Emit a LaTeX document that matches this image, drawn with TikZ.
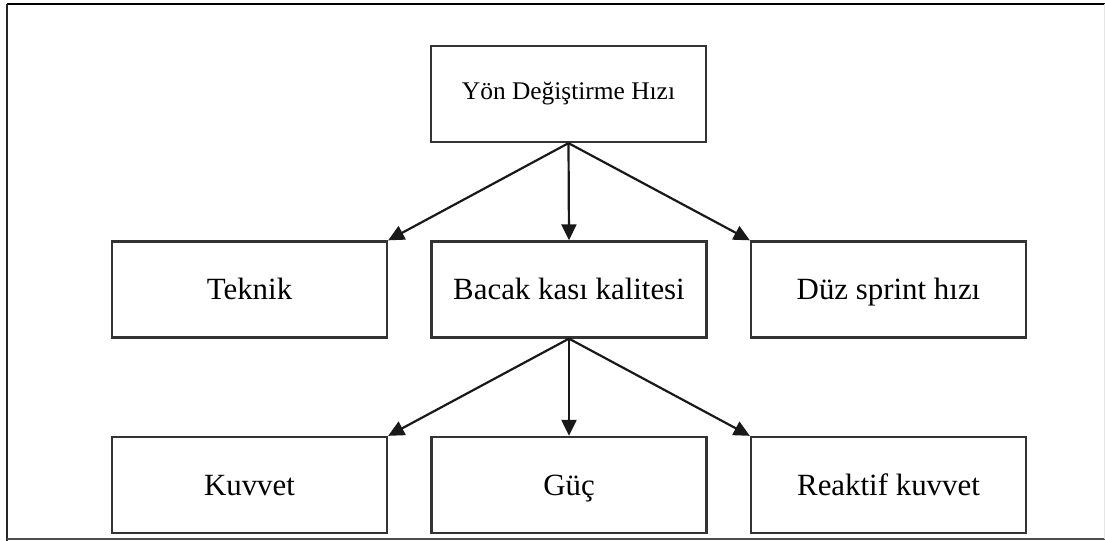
\documentclass[tikz,border=0pt]{standalone}
\usepackage{fontspec}
\setmainfont{Liberation Serif}
\usetikzlibrary{arrows.meta}
\begin{document}
\begin{tikzpicture}[x=1bp,y=-1bp,
  box/.style={draw=black!80, line width=2.3bp, minimum width=275bp, minimum height=96bp, inner sep=0pt, text height=23.2bp, text depth=2.2bp, font=\fontsize{31}{36}\selectfont},
  topbox/.style={box, text height=17.9bp, text depth=5.9bp, font=\fontsize{25.5}{30}\selectfont},
  link/.style={draw=black!90, line width=2.2bp, -{Triangle[length=16bp,width=15bp]}}
]
\useasboundingbox (0,0) rectangle (1105,541);
% outer frame
\draw[line width=2.8bp, black] (7,4) -- (1105,4);
\draw[line width=2.2bp, black!85] (7,4) -- (7,541);
\draw[line width=1.6bp, black!70] (7,539) -- (1105,539);
\draw[line width=1bp, black!10] (1104,4) -- (1104,539);
% nodes
\node[topbox] (top) at (568.5,94) {Yön Değiştirme Hızı};
\node[box] (tek) at (249.5,289.5) {Teknik};
\node[box] (bac) at (569,289.5) {Bacak kası kalitesi};
\node[box] (duz) at (888.5,289.5) {Düz sprint hızı};
\node[box] (kuv) at (249.5,485) {Kuvvet};
\node[box] (guc) at (569,485) {Güç};
\node[box] (rea) at (888.5,485) {Reaktif kuvvet};
% connectors
\draw[link] (top.south) -- (tek.north east);
\draw[link] (top.south) -- (bac.north);
\draw[link] (top.south) -- (duz.north west);
\draw[link] (bac.south) -- (kuv.north east);
\draw[link] (bac.south) -- (guc.north);
\draw[link] (bac.south) -- (rea.north west);
\end{tikzpicture}
\end{document}
